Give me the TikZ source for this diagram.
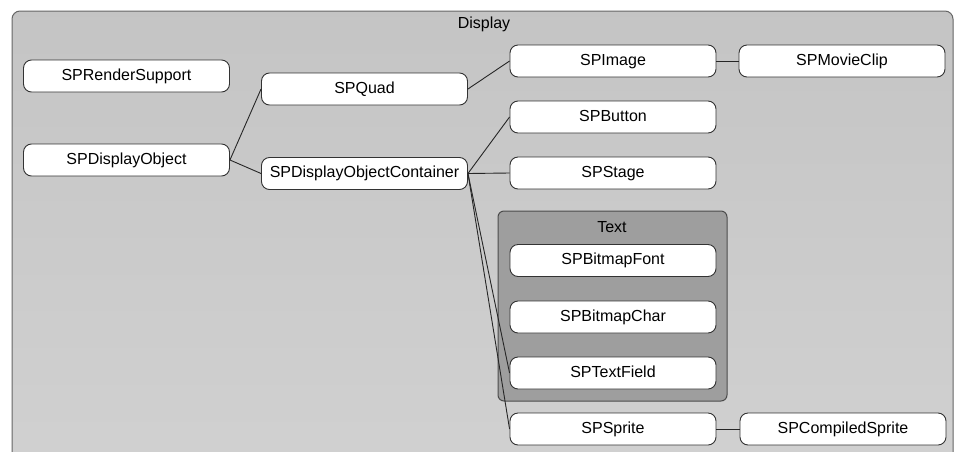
\documentclass[tikz,border=0pt]{standalone}
\usepackage{fontspec}
\setmainfont{Liberation Sans}
\begin{document}
\begin{tikzpicture}[x=1pt,y=-1pt,
  cls/.style={draw=black!80, fill=white, rounded corners=8pt,
    minimum width=206pt, minimum height=32pt, inner sep=0pt,
    line width=0.9pt, font=\fontsize{16}{18}\selectfont,
    text height=11.5pt, text depth=3pt},
  grouplabel/.style={font=\fontsize{16}{18}\selectfont, inner sep=0pt},
  link/.style={draw=black!85, line width=0.9pt}]
  \useasboundingbox (0,0) rectangle (954,451);
  % outer package frame (runs off the bottom edge)
  \begin{scope}
    \clip (0,0) rectangle (954,451);
    \shade[top color=black!23, bottom color=black!18, draw=black!60, line width=1pt,
      rounded corners=8pt] (12,11) rectangle (953,480);
  \end{scope}
  \node[grouplabel] (displaylbl) at (484,24) {Display};
  % inner package for the text classes
  \draw[fill=black!38, draw=black!70, line width=1pt, rounded corners=6pt]
    (498,211) rectangle (727,401);
  \node[grouplabel] (textlbl) at (612,227) {Text};
  % classes
  \node[cls] (render)   at (126.5,76)  {SPRenderSupport};
  \node[cls] (quad)     at (364.5,89)  {SPQuad};
  \node[cls] (dobj)     at (126.5,160) {SPDisplayObject};
  \node[cls] (cont)     at (364.5,173.5) {SPDisplayObjectContainer};
  \node[cls] (image)    at (613,61)    {SPImage};
  \node[cls] (movie)    at (842,61)    {SPMovieClip};
  \node[cls] (button)   at (613,117)   {SPButton};
  \node[cls] (stage)    at (613,173)   {SPStage};
  \node[cls] (bfont)    at (613,260.5) {SPBitmapFont};
  \node[cls] (bchar)    at (613,317)   {SPBitmapChar};
  \node[cls] (field)    at (613,373)   {SPTextField};
  \node[cls] (sprite)   at (613,429)   {SPSprite};
  \node[cls] (compiled) at (843,429)   {SPCompiledSprite};
  % inheritance links
  \draw[link] (dobj.east) -- (quad.west);
  \draw[link] (dobj.east) -- (cont.west);
  \draw[link] (quad.east) -- (image.west);
  \draw[link] (image.east) -- (movie.west);
  \draw[link] (cont.east) -- (button.west);
  \draw[link] (cont.east) -- (stage.west);
  \draw[link] (cont.east) -- (field.west);
  \draw[link] (cont.east) -- (sprite.west);
  \draw[link] (sprite.east) -- (compiled.west);
\end{tikzpicture}
\end{document}
